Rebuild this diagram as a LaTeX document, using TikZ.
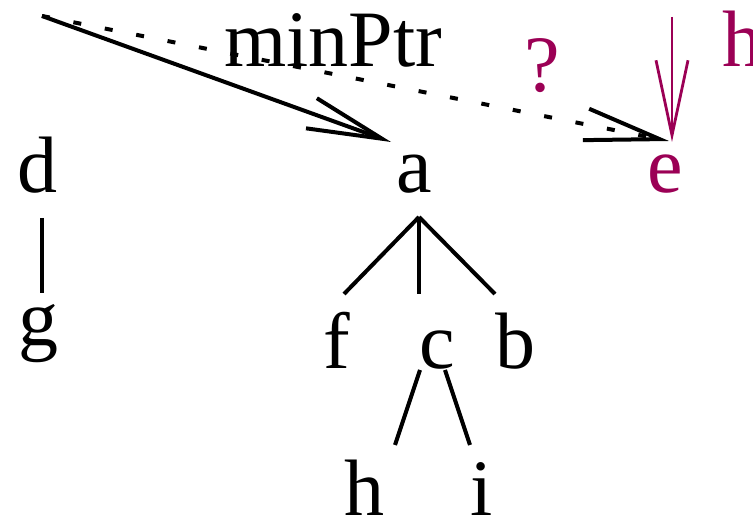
\documentclass[tikz,border=0pt]{standalone}
\usepackage{fontspec}
\setmainfont{Liberation Serif}
\usetikzlibrary{arrows.meta, calc, positioning}
\definecolor{plum}{RGB}{155,0,85}

\begin{document}
\begin{tikzpicture}[x=1bp, y=1bp,
  lbl/.style={inner sep=0pt, anchor=base, font=\fontsize{80bp}{96bp}\selectfont},
  rama/.style={line width=4bp},
  punta/.style={-{Straight Barb[length=75bp, width=32bp]}},
  punteada/.style={line width=4bp, dash pattern=on 8bp off 24bp}]
\useasboundingbox (0,0) rectangle (753,522);

% arboles: d-g y a con hijos f, c, b
\node[lbl] (d) at (37,329) {d};
\node[lbl] (g) at (38,176) {g};
\node[lbl] (a) at (414,329) {a};
\node[lbl] (f) at (337,153) {f};
\node[lbl] (c) at (437,153) {c};
\node[lbl] (b) at (515,153) {b};
\node[lbl] (h) at (364,6) {h};
\node[lbl] (i) at (482,6) {i};
\node[lbl, text=plum] (e) at (665,329) {e};

% etiquetas
\node[lbl] (minptr) at (333,455) {minPtr};
\node[lbl, text=plum] (duda) at (542,430) {?};
\node[lbl, text=plum] (hlbl) at (742,455) {h};

% aristas
\draw[rama] ([shift={(5,-25)}]d.base) -- ([shift={(4,53)}]g.base);
\draw[rama] ([shift={(5,-24)}]a.base) -- ([shift={(7,75)}]f.base);
\draw[rama] ([shift={(5,-24)}]a.base) -- ([shift={(-18,75)}]c.base);
\draw[rama] ([shift={(5,-24)}]a.base) -- ([shift={(-20,75)}]b.base);
\draw[rama] ([shift={(-17,-1)}]c.base) -- ([shift={(31,71)}]h.base);
\draw[rama] ([shift={(8,-1)}]c.base) -- ([shift={(-12,71)}]i.base);

% punteros
\coordinate (inicio) at (42,506);
\coordinate (hin) at (672,505);
\draw[rama, punta] (inicio) -- ([shift={(-23,51)}]a.base);
\draw[punteada, punta] (inicio) -- ([shift={(4,52)}]e.base);
\draw[plum, line width=2.8bp, punta] (hin) -- ([shift={(7,51)}]e.base);
\end{tikzpicture}
\end{document}
